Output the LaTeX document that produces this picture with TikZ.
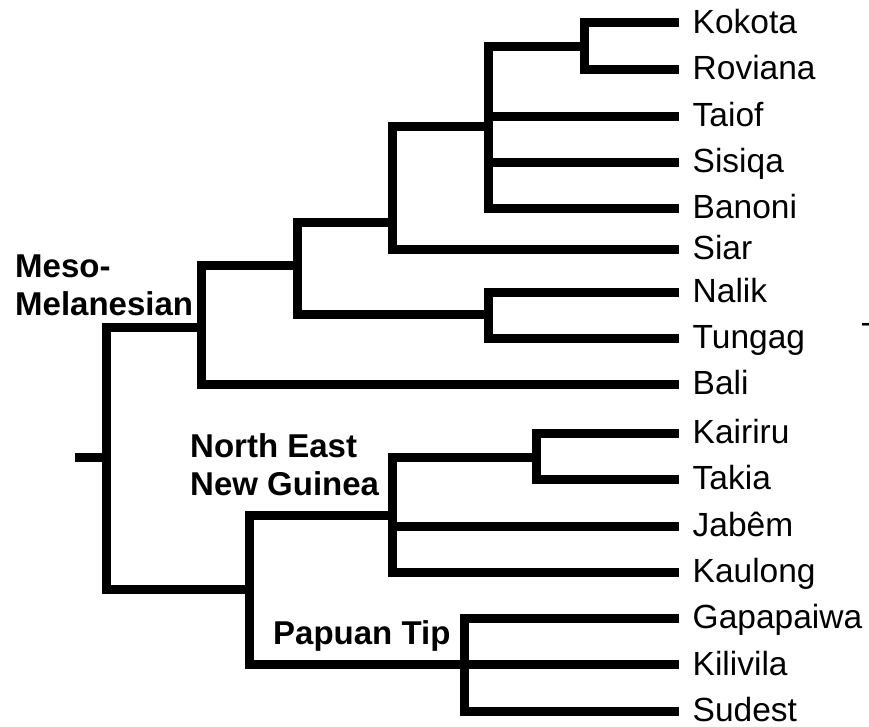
\documentclass[tikz,border=0pt]{standalone}
\usepackage{fontspec}
\setmainfont{Liberation Sans}
\usetikzlibrary{positioning,calc}
\tikzset{branch/.style={draw, line width=9pt, line cap=butt, line join=miter}}
\tikzset{leaf/.style={anchor=west, inner xsep=13.5pt, inner ysep=0pt, text height=21pt, text depth=0pt, font=\fontsize{33.5}{38}\selectfont}}
\tikzset{clade/.style={anchor=base west, inner sep=0pt, align=left, font=\bfseries\fontsize{33}{38}\selectfont}}

\begin{document}
\begin{tikzpicture}[x=1pt, y=-1pt]
	\useasboundingbox (0,0) rectangle (869,726);
	% languages
	\node[leaf] (kokota) at (679,22.5) {Kokota};
	\node[leaf] (roviana) at (679,69) {Roviana};
	\node[leaf] (taiof) at (679,116) {Taiof};
	\node[leaf] (sisiqa) at (679,162) {Sisiqa};
	\node[leaf] (banoni) at (679,208) {Banoni};
	\node[leaf] (siar) at (679,249) {Siar};
	\node[leaf] (nalik) at (679,292) {Nalik};
	\node[leaf] (tungag) at (679,338) {Tungag};
	\node[leaf] (bali) at (679,384) {Bali};
	\node[leaf] (kairiru) at (679,433) {Kairiru};
	\node[leaf] (takia) at (679,479) {Takia};
	\node[leaf] (jabem) at (679,526) {Jabêm};
	\node[leaf] (kaulong) at (679,572) {Kaulong};
	\node[leaf] (gapapaiwa) at (679,618) {Gapapaiwa};
	\node[leaf] (kilivila) at (679,664.5) {Kilivila};
	\node[leaf] (sudest) at (679,711) {Sudest};
	%
	% branching points
	\coordinate (rootstub) at (75,457);
	\coordinate (root) at (106,457);
	\coordinate (mm) at (201,327);
	\coordinate (mmA) at (297,265);
	\coordinate (mmB) at (392,222);
	\coordinate (mmC) at (488,126);
	\coordinate (kr) at (584,46);
	\coordinate (nt) at (488,314);
	\coordinate (np) at (249,589);
	\coordinate (ng) at (392,515);
	\coordinate (kt) at (536,457);
	\coordinate (pt) at (464,664.5);
	%
	\draw[branch] (rootstub) -- (root);
	\draw[branch] (mm) -| (root) |- (np);
	\draw[branch] (mmA) -| (mm) |- (bali.west);
	\draw[branch] (mmB) -| (mmA) |- (nt);
	\draw[branch] (mmC) -| (mmB) |- (siar.west);
	\draw[branch] (kr) -| (mmC) |- (banoni.west);
	\draw[branch] (mmC |- taiof.west) -- (taiof.west);
	\draw[branch] (mmC |- sisiqa.west) -- (sisiqa.west);
	\draw[branch] (kokota.west) -| (kr) |- (roviana.west);
	\draw[branch] (nalik.west) -| (nt) |- (tungag.west);
	%
	\draw[branch] (ng) -| (np) |- (pt);
	\draw[branch] (kt) -| (ng) |- (kaulong.west);
	\draw[branch] (ng |- jabem.west) -- (jabem.west);
	\draw[branch] (kairiru.west) -| (kt) |- (takia.west);
	\draw[branch] (gapapaiwa.west) -| (pt) |- (sudest.west);
	\draw[branch] (pt) -- (kilivila.west);
	%
	% subgroup names (anchored on the last line)
	\node[clade] (lmeso) at (15,315) {Meso-\\Melanesian};
	\node[clade] (lneng) at (190,495) {North East\\New Guinea};
	\node[clade] (lpt) at (273,644) {Papuan Tip};
	\node[anchor=base west, inner sep=0pt, font=\fontsize{33}{38}\selectfont] (dash) at (860.5,333) {-};
\end{tikzpicture}
\end{document}
